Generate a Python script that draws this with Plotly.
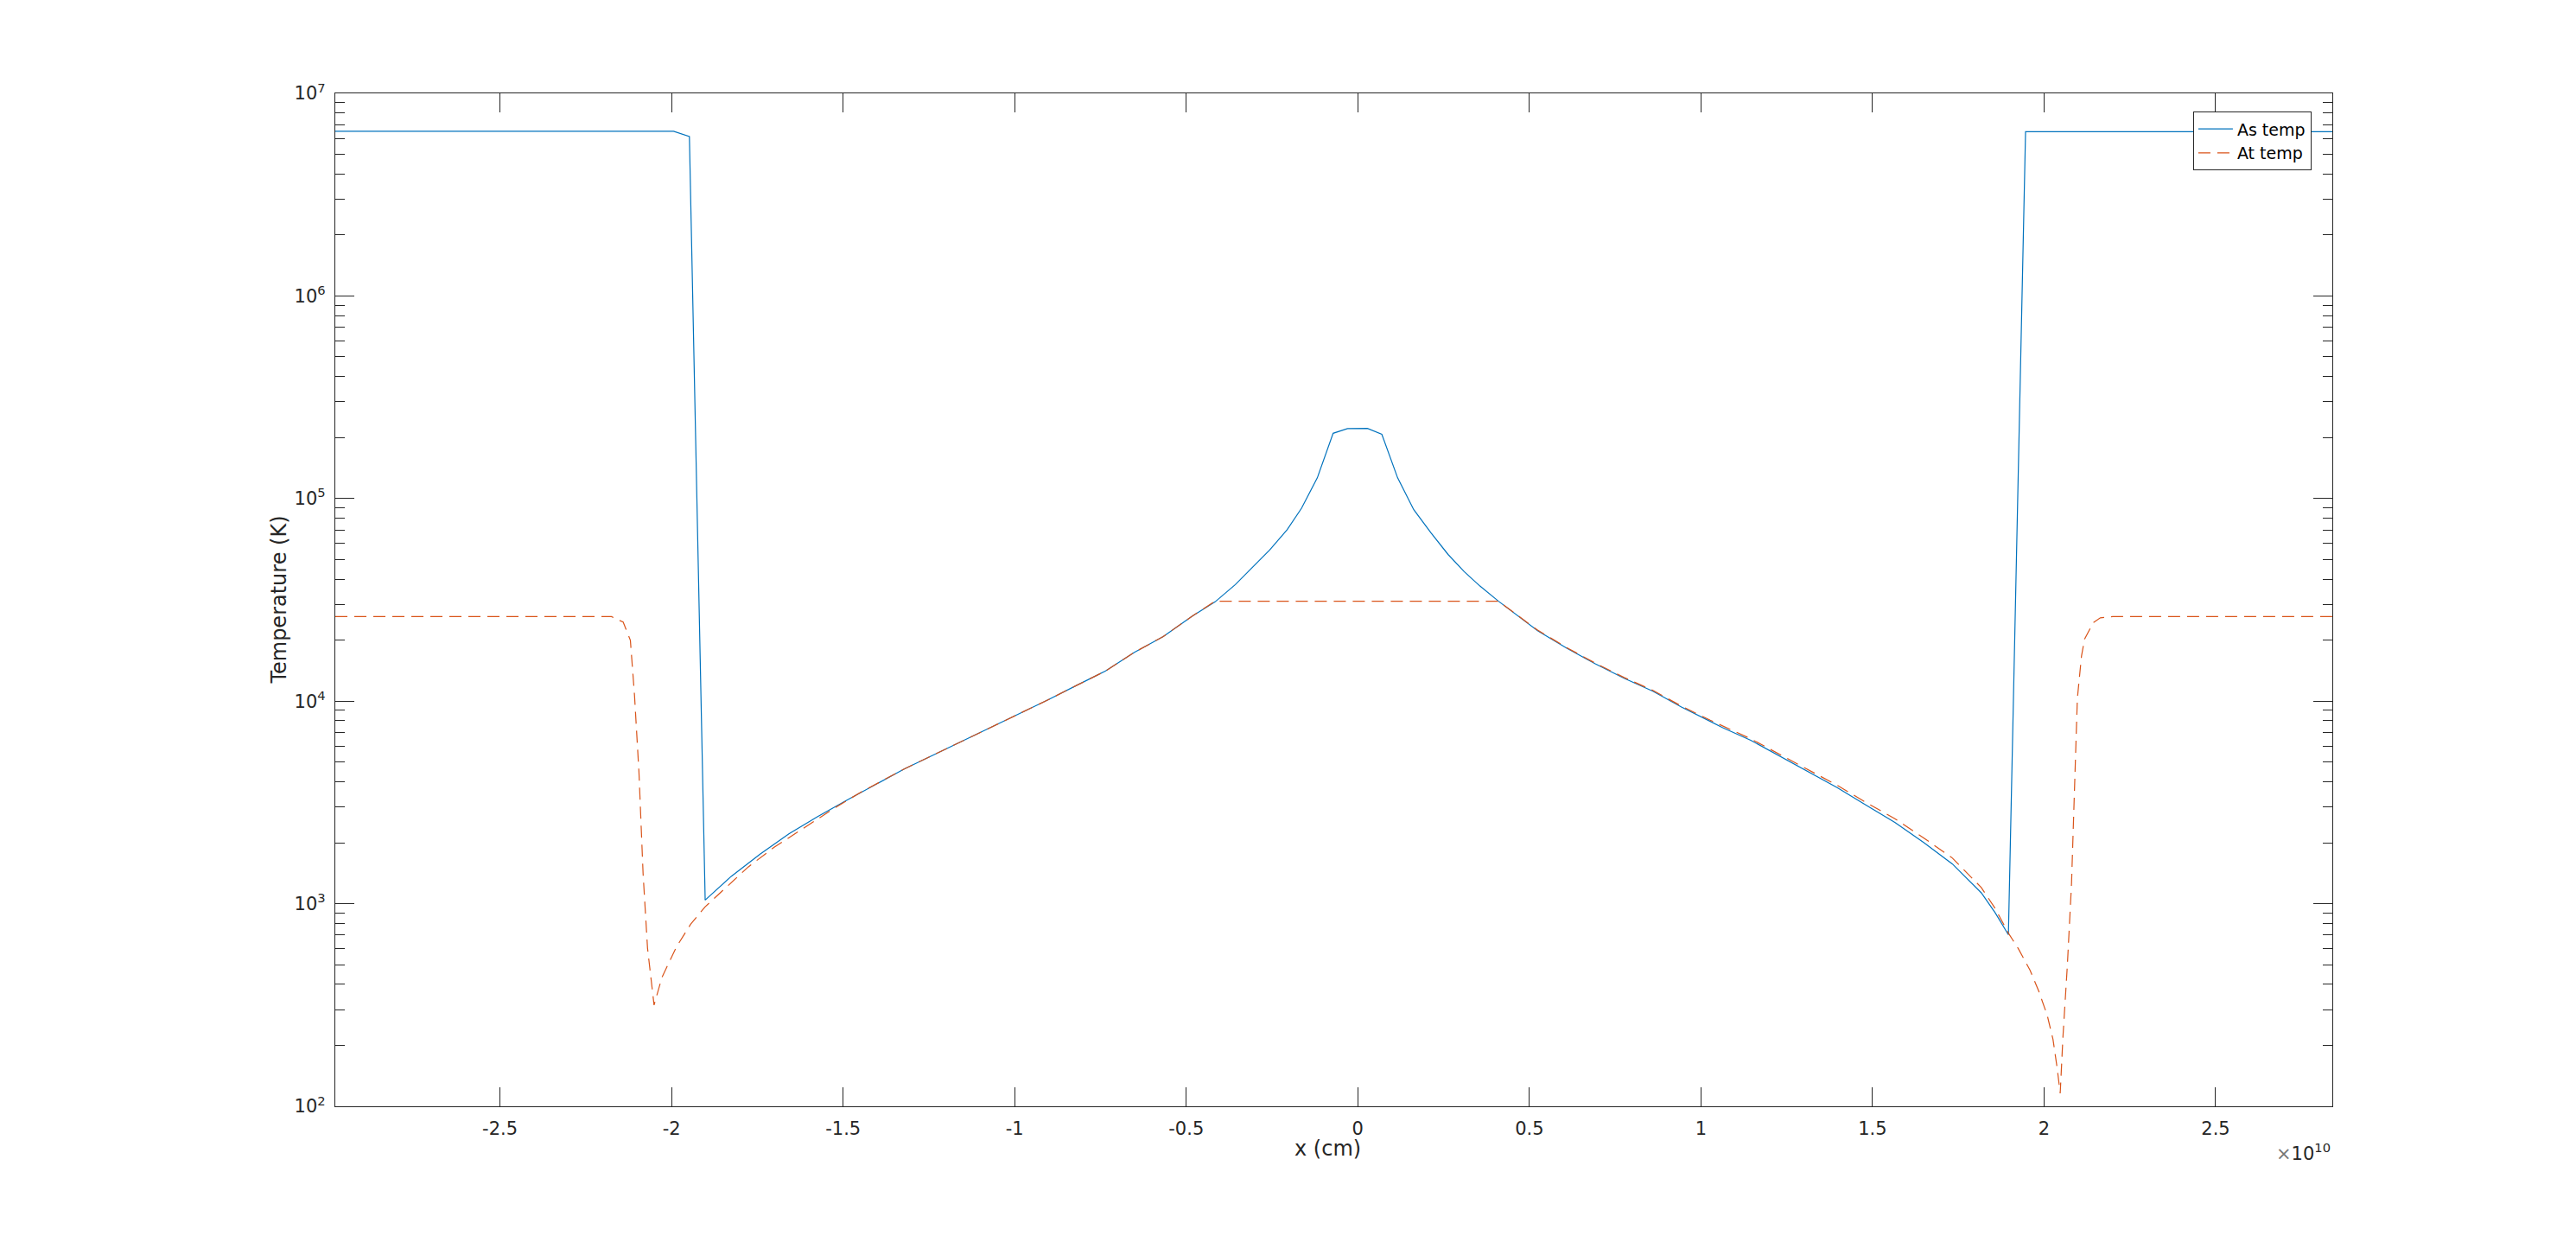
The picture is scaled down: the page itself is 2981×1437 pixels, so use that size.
import plotly.graph_objects as go

# x positions in units of 1e10 cm, temperatures in K
as_x = [-2.980, -1.994, -1.948, -1.902, -1.826, -1.742, -1.658, -1.574, -1.490, -1.407,
        -1.322, -1.238, -1.155, -1.071, -0.987, -0.903, -0.819, -0.735, -0.651, -0.567,
        -0.483, -0.416, -0.357, -0.315, -0.257, -0.206, -0.164, -0.118, -0.072, -0.030,
        0.028, 0.070, 0.116, 0.163, 0.213, 0.263, 0.310, 0.356, 0.410, 0.524,
        0.608, 0.692, 0.776, 0.860, 0.943, 1.027, 1.061, 1.145, 1.229, 1.313,
        1.397, 1.481, 1.565, 1.649, 1.733, 1.817, 1.858, 1.896, 1.946, 2.840]
as_temp = [6.50e6, 6.50e6, 6.12e6, 1042, 1365, 1758, 2213, 2692, 3236, 3864,
           4624, 5410, 6310, 7380, 8610, 10140, 11970, 14090, 17420, 20840,
           26240, 30900, 37580, 44260, 55720, 70150, 89540, 126500, 209900, 221500,
           221800, 207500, 126500, 88100, 67760, 52970, 43550, 36980, 31120, 22280,
           18280, 15280, 12970, 11190, 9354, 7943, 7430, 6412, 5358, 4477,
           3741, 3069, 2523, 2004, 1570, 1132, 899, 703, 6.47e6, 6.47e6]

at_x = [-2.980, -2.175, -2.141, -2.120, -2.108, -2.095, -2.083, -2.070, -2.051, -2.028,
        -1.986, -1.944, -1.902, -1.850, -1.776, -1.700, -1.650, -1.574, -1.524, -1.449,
        -1.407, -1.322, -1.238, -1.155, -1.071, -0.987, -0.903, -0.819, -0.735, -0.651,
        -0.567, -0.483, -0.416, 0.410, 0.524, 0.608, 0.692, 0.776, 0.860, 0.943,
        1.027, 1.145, 1.229, 1.313, 1.397, 1.481, 1.565, 1.649, 1.733, 1.817,
        1.858, 1.896, 1.925, 1.959, 1.984, 2.009, 2.026, 2.038, 2.047, 2.055,
        2.068, 2.080, 2.089, 2.097, 2.109, 2.118, 2.143, 2.164, 2.200, 2.840]
at_temp = [26120, 26120, 24550, 19950, 10720, 4467, 1413, 603, 316, 433,
           611, 794, 966, 1161, 1521, 1905, 2160, 2600, 2972, 3548,
           3864, 4624, 5410, 6310, 7380, 8610, 10140, 11970, 14090, 17420,
           20840, 26240, 31120, 31120, 22400, 18400, 15400, 13080, 11300, 9450,
           8050, 6520, 5470, 4580, 3840, 3162, 2630, 2113, 1679, 1202,
           944, 716, 600, 470, 372, 282, 214, 155, 116, 220,
           501, 1259, 3548, 10300, 16670, 20230, 24380, 25760, 26120, 26120]

x_ticks = [-2.5, -2, -1.5, -1, -0.5, 0, 0.5, 1, 1.5, 2, 2.5]
x_tick_labels = ["-2.5", "-2", "-1.5", "-1", "-0.5", "0", "0.5", "1", "1.5", "2", "2.5"]
y_ticks = [1e2, 1e3, 1e4, 1e5, 1e6, 1e7]
y_tick_labels = ["10<sup>2</sup>", "10<sup>3</sup>", "10<sup>4</sup>",
                 "10<sup>5</sup>", "10<sup>6</sup>", "10<sup>7</sup>"]

INK = "#262626"
FONT = "DejaVu Sans"

minor_vals = [m * 10 ** e for e in range(2, 7) for m in range(2, 10)]

fig = go.Figure()
fig.add_trace(go.Scatter(x=as_x, y=as_temp, mode="lines", name="As temp",
                         line=dict(color="#0072BD", width=1.2)))
fig.add_trace(go.Scatter(x=at_x, y=at_temp, mode="lines", name="At temp",
                         line=dict(color="#D95319", width=1.2, dash="14px,8px")))

# page body has an 8px margin, so the figure is sized to fit inside the window
fig.update_layout(
    width=2965, height=1421,
    margin=dict(l=380, r=274, t=100, b=149),
    paper_bgcolor="white", plot_bgcolor="white",
    font=dict(family=FONT, size=21, color=INK),
    showlegend=True,
    legend=dict(x=0.9895, y=0.982, xanchor="right", yanchor="top",
                bgcolor="white", bordercolor=INK, borderwidth=1.2,
                font=dict(family=FONT, size=19, color="#000000"),
                tracegroupgap=0, itemwidth=40),
)

fig.update_xaxes(
    range=[-2.98, 2.84], tickvals=x_ticks, ticktext=x_tick_labels,
    showgrid=False, zeroline=False, showline=True, linecolor=INK, linewidth=1.2,
    mirror="ticks", ticks="inside", ticklen=22, tickwidth=1.2, tickcolor=INK,
    ticklabelstandoff=7, tickfont=dict(family=FONT, size=21, color=INK),
)
fig.update_yaxes(
    type="log", range=[2, 7], tickvals=y_ticks, ticktext=y_tick_labels,
    showgrid=False, zeroline=False, showline=True, linecolor=INK, linewidth=1.2,
    mirror="ticks", ticks="inside", ticklen=22, tickwidth=1.2, tickcolor=INK,
    ticklabelstandoff=6, tickfont=dict(family=FONT, size=21, color=INK),
    minor=dict(ticks="inside", ticklen=11, tickwidth=1.2, tickcolor=INK,
               tickvals=minor_vals, showgrid=False),
)

fig.add_annotation(text="x (cm)", xref="paper", yref="paper", x=0.497, y=-0.0416,
                   xanchor="center", yanchor="middle", showarrow=False,
                   font=dict(family=FONT, size=24, color=INK))
fig.add_annotation(text="Temperature (K)", xref="paper", yref="paper", x=-0.0283, y=0.5,
                   xanchor="center", yanchor="middle", textangle=-90, showarrow=False,
                   font=dict(family=FONT, size=24, color=INK))
fig.add_annotation(text="<span style='color:#777777'>×</span>10<sup>10</sup>",
                   xref="paper", yref="paper", x=1.0, y=-0.045,
                   xanchor="right", yanchor="middle", showarrow=False,
                   font=dict(family=FONT, size=21, color=INK))

fig.write_html("out.html")
